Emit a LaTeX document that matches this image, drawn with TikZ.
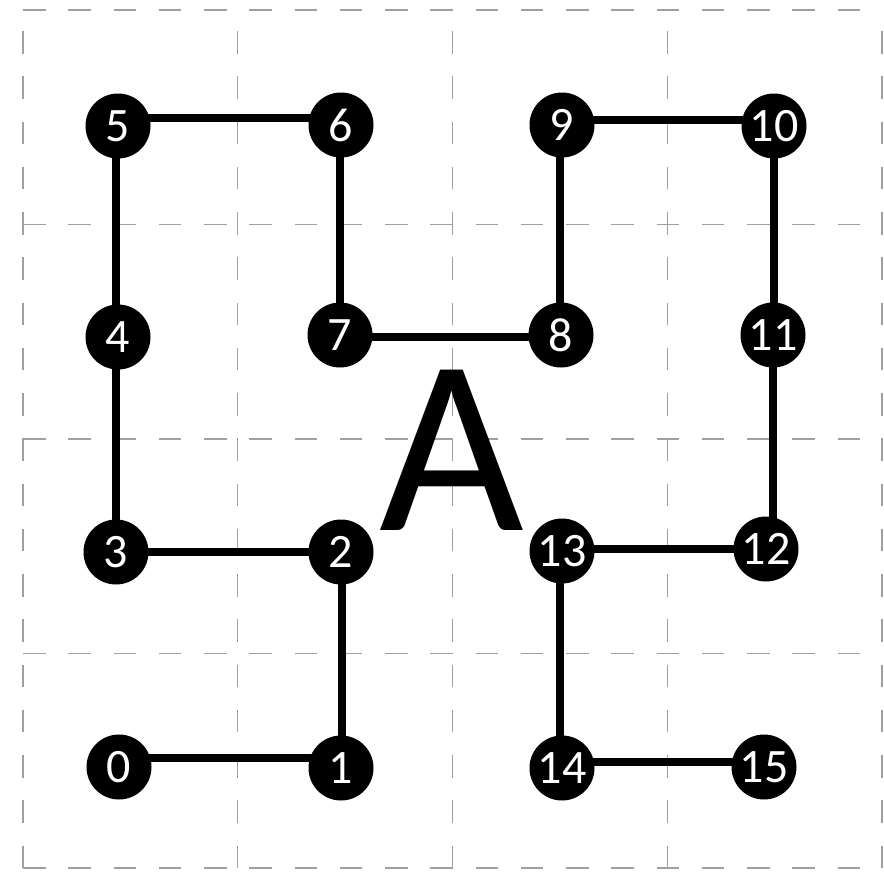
\documentclass[tikz,border=0pt]{standalone}
\usepackage{fontspec}
\setmainfont{Carlito}
\tikzset{
  gridline/.style={draw={rgb,255:red,160;green,160;blue,160}, line width=1.4pt, dash pattern=on 22.5pt off 22.75pt},
  vnode/.style={circle, fill=black, minimum size=65pt, inner sep=0pt, text=white, font=\fontsize{48}{48}\selectfont},
  link/.style={line width=8pt, black},
}
\begin{document}
\begin{tikzpicture}[x=1pt, y=-1pt]
\useasboundingbox (0,0) rectangle (884,873);
% grid
\foreach \yy in {10,224.5,439,653.5,868} {
  \draw[gridline] (23,\yy) -- (882,\yy);
}
\foreach \xx in {23,237.75,452.5,667.25,882} {
  \draw[gridline] (\xx,868) -- (\xx,10);
}
% node positions
\coordinate (c0) at (119,767);
\coordinate (c1) at (341,768);
\coordinate (c2) at (341,552);
\coordinate (c3) at (116,552);
\coordinate (c4) at (118,337);
\coordinate (c5) at (118,126);
\coordinate (c6) at (341,125);
\coordinate (c7) at (340,335);
\coordinate (c8) at (561,335);
\coordinate (c9) at (562,125);
\coordinate (c10) at (774,126);
\coordinate (c11) at (773,335);
\coordinate (c12) at (766,549);
\coordinate (c13) at (562,551);
\coordinate (c14) at (562,768);
\coordinate (c15) at (764,767);
% links
\draw[link] ([yshift=9pt]c0) -- ([yshift=9pt]c0 -| c1);
\draw[link] ([xshift=1pt]c1) -- ([xshift=1pt]c1 |- c2);
\draw[link] (c2) -- (c3);
\draw[link] (c3) -- (c3 |- c4);
\draw[link] ([xshift=-2pt]c4) -- ([xshift=-2pt]c5);
\draw[link] ([yshift=8pt]c5) -- ([yshift=8pt]c5 -| c6);
\draw[link] ([xshift=-1pt]c6) -- ([xshift=-1pt]c6 |- c7);
\draw[link] ([yshift=-2pt]c7) -- ([yshift=-2pt]c7 -| c8);
\draw[link] ([xshift=-1pt]c8) -- ([xshift=-1pt]c8 |- c9);
\draw[link] ([yshift=5pt]c9) -- ([yshift=5pt]c9 -| c10);
\draw[link] (c10) -- (c10 |- c11);
\draw[link] (c11) -- (c11 |- c12);
\draw[link] (c12) -- (c12 -| c13);
\draw[link] ([xshift=-2pt]c13) -- ([xshift=-2pt]c13 |- c14);
\draw[link] ([yshift=6pt]c14) -- ([yshift=6pt]c14 -| c15);
% nodes
\foreach \i in {0,...,15} {
  \node[vnode] (n\i) at (c\i) {\i};
}
% big letter
\node[anchor=base, inner sep=0pt, font=\fontsize{250}{250}\selectfont] (bigA) at (452,530) {A};
\end{tikzpicture}
\end{document}
